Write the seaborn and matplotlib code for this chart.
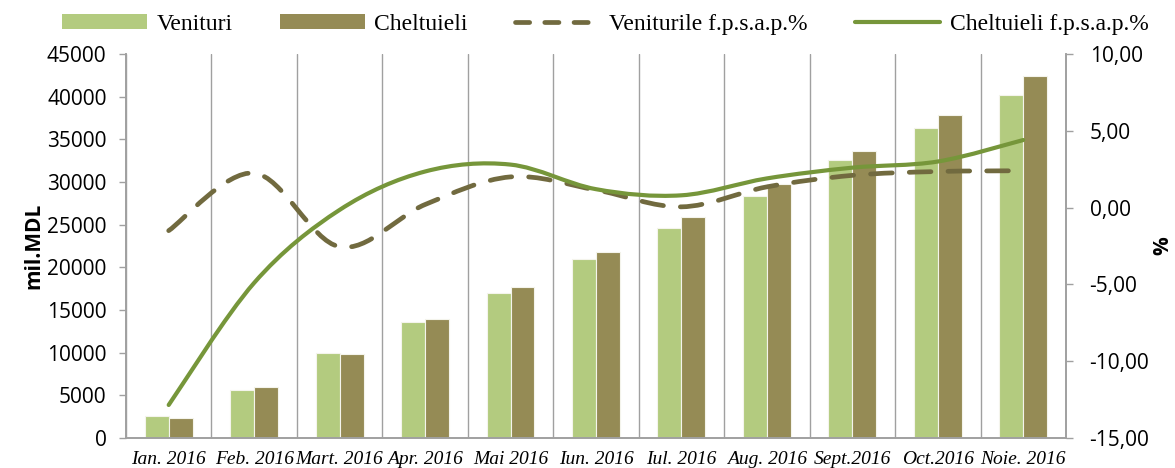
import numpy as np
import pandas as pd
import matplotlib
matplotlib.use("Agg")
import matplotlib.pyplot as plt
from matplotlib.path import Path
from matplotlib.patches import PathPatch, Patch
from matplotlib.lines import Line2D
import seaborn as sns

# data
luni = ["Ian. 2016", "Feb. 2016", "Mart. 2016", "Apr. 2016", "Mai 2016", "Iun. 2016",
        "Iul. 2016", "Aug. 2016", "Sept.2016", "Oct.2016", "Noie. 2016"]
venituri = [2600, 5600, 9950, 13600, 17000, 21000, 24650, 28400, 32600, 36300, 40250]
cheltuieli = [2400, 6000, 9800, 13950, 17700, 21800, 25850, 29800, 33650, 37900, 42450]
venituri_pct = [-1.5, 2.25, -2.55, 0.2, 2.0, 1.15, 0.05, 1.35, 2.1, 2.35, 2.4]
cheltuieli_pct = [-12.85, -4.9, -0.15, 2.35, 2.8, 1.2, 0.8, 1.9, 2.6, 3.0, 4.4]

c_ven = "#b3cb7f"
c_chelt = "#958b55"
c_ven_line = "#716a3f"
c_chelt_line = "#76963a"
c_axis = "#a0a0a0"

sns.set_style("white")
plt.rcParams["font.family"] = ["Open Sans", "DejaVu Sans"]
plt.rcParams["text.color"] = "black"
plt.rcParams["xtick.color"] = "black"
plt.rcParams["ytick.color"] = "black"
plt.rcParams["axes.labelcolor"] = "black"

df = pd.DataFrame({
    "luna": luni * 2,
    "serie": ["Venituri"] * len(luni) + ["Cheltuieli"] * len(luni),
    "val": venituri + cheltuieli,
})

fig = plt.figure(figsize=(11.75, 4.68), dpi=100)
ax = fig.add_axes([0.1072, 0.0641, 0.8, 0.8205])

sns.barplot(data=df, x="luna", y="val", hue="serie", order=luni,
            hue_order=["Venituri", "Cheltuieli"],
            palette={"Venituri": c_ven, "Cheltuieli": c_chelt},
            width=0.56, gap=0, saturation=1, edgecolor="#f4f4ec", linewidth=0.8,
            ax=ax, legend=False, zorder=2)

ax.set_xlim(-0.5, len(luni) - 0.5)
ax.set_ylim(0, 45000)
ax.set_yticks(np.arange(0, 45001, 5000))
ax.set_xticks(np.arange(-0.5, len(luni), 1), minor=True)
ax.grid(which="minor", axis="x", color=c_axis, lw=1)
ax.grid(which="major", axis="both", visible=False)
ax.tick_params(axis="x", which="major", length=0, pad=9)
ax.tick_params(axis="x", which="minor", length=5, color=c_axis, width=1, direction="out")
ax.tick_params(axis="y", length=5, color=c_axis, width=1, direction="out",
               labelsize=15, pad=9)
for lab in ax.get_xticklabels():
    lab.set_fontfamily("Liberation Serif")
    lab.set_fontstyle("italic")
    lab.set_fontsize(14)
ax.set_xlabel("")
ax.set_ylabel("mil.MDL", fontsize=15, fontweight="bold", labelpad=2)
for s in ["left", "bottom", "right"]:
    ax.spines[s].set_color(c_axis)
    ax.spines[s].set_linewidth(1.2)
ax.spines["top"].set_visible(False)

ax2 = ax.twinx()
ax2.set_ylim(-15, 10)
ax2.set_yticks(np.arange(-15, 10.1, 5))
ax2.set_yticklabels([f"{v:.2f}".replace(".", ",") for v in np.arange(-15, 10.1, 5)])
ax2.tick_params(axis="y", length=5, color=c_axis, width=1, direction="out",
                labelsize=15, pad=12)
ax2.set_ylabel("%", fontsize=15, fontweight="bold", labelpad=2)
for s in ["left", "bottom", "right"]:
    ax2.spines[s].set_color(c_axis)
    ax2.spines[s].set_linewidth(1.2)
ax2.spines["top"].set_visible(False)


def smooth_path(ys):
    # Excel-style smoothed line: cubic Bezier between the points
    xs = np.arange(len(ys), dtype=float)
    ys = np.asarray(ys, dtype=float)
    pts = np.column_stack([xs, ys])
    verts = [pts[0]]
    codes = [Path.MOVETO]
    n = len(pts)
    for i in range(n - 1):
        p0 = pts[max(i - 1, 0)]
        p1 = pts[i]
        p2 = pts[i + 1]
        p3 = pts[min(i + 2, n - 1)]
        verts += [p1 + (p2 - p0) / 6, p2 - (p3 - p1) / 6, p2]
        codes += [Path.CURVE4] * 3
    return Path(verts, codes)


ax2.add_patch(PathPatch(smooth_path(venituri_pct), fill=False, edgecolor=c_ven_line,
                        lw=3.4, linestyle=(0, (4.6, 3.6)), capstyle="round", zorder=3))
ax2.add_patch(PathPatch(smooth_path(cheltuieli_pct), fill=False, edgecolor=c_chelt_line,
                        lw=3.0, capstyle="round", zorder=4))

handles = [
    Patch(facecolor=c_ven, edgecolor="none"),
    Patch(facecolor=c_chelt, edgecolor="none"),
    Line2D([], [], color=c_ven_line, lw=3.4, linestyle=(0, (3.0, 3.2)),
           dash_capstyle="round"),
    Line2D([], [], color=c_chelt_line, lw=3.0, solid_capstyle="round"),
]
labels = ["Venituri", "Cheltuieli", "Veniturile f.p.s.a.p.%", "Cheltuieli f.p.s.a.p.%"]
fig.legend(handles, labels, loc="upper center", bbox_to_anchor=(0.515, 1.015), ncol=4,
           frameon=False, handlelength=3.6, handleheight=0.6, columnspacing=2.0,
           handletextpad=0.4, prop={"family": "Liberation Serif", "size": 17})

fig.savefig("out.png", dpi=100)
